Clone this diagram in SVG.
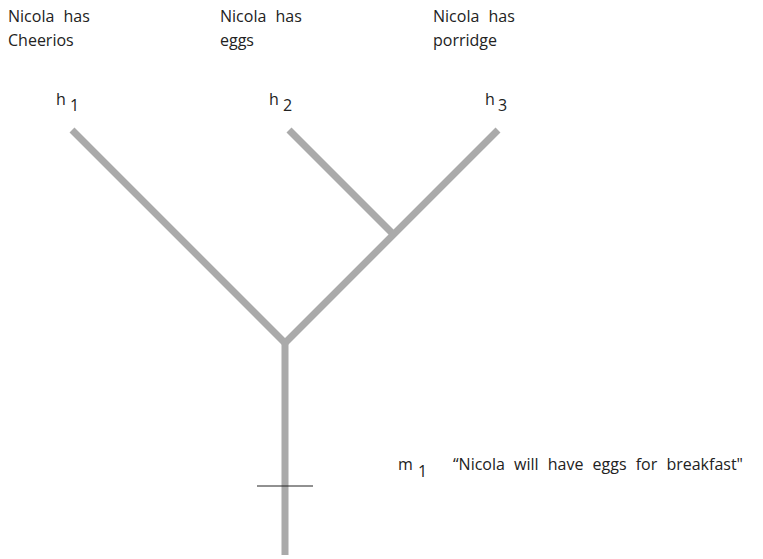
<svg xmlns="http://www.w3.org/2000/svg" width="763" height="559" viewBox="0 0 763 559">
<style>
text{font-family:"Open Sans","Liberation Sans",sans-serif;font-size:16px;fill:#222;word-spacing:5px}
.br{stroke:#aaaaaa;stroke-width:7;fill:none;stroke-linecap:butt;stroke-linejoin:miter}
</style>
<rect width="763" height="559" fill="#fff"/>
<g id="connectors">
<path class="br" d="M72,130 L285,343 L498,130"/>
<path class="br" d="M289,130 L395,236"/>
<path class="br" d="M285,341 L285,555"/>
<line x1="257" y1="486" x2="313" y2="486" stroke="#222" stroke-width="1"/>
</g>
<g id="h1">
<text x="8" y="22">Nicola has</text>
<text x="8" y="46">Cheerios</text>
<text x="56" y="105">h</text>
<text x="70" y="111">1</text>
</g>
<g id="h2">
<text x="220" y="22">Nicola has</text>
<text x="220" y="46">eggs</text>
<text x="269" y="105">h</text>
<text x="283" y="111">2</text>
</g>
<g id="h3">
<text x="433" y="22">Nicola has</text>
<text x="433" y="46">porridge</text>
<text x="485" y="105">h</text>
<text x="498" y="111">3</text>
</g>
<g id="m1">
<text x="398" y="470">m</text>
<text x="418" y="477">1</text>
<text x="453" y="470">“Nicola will have eggs for breakfast"</text>
</g>
</svg>
